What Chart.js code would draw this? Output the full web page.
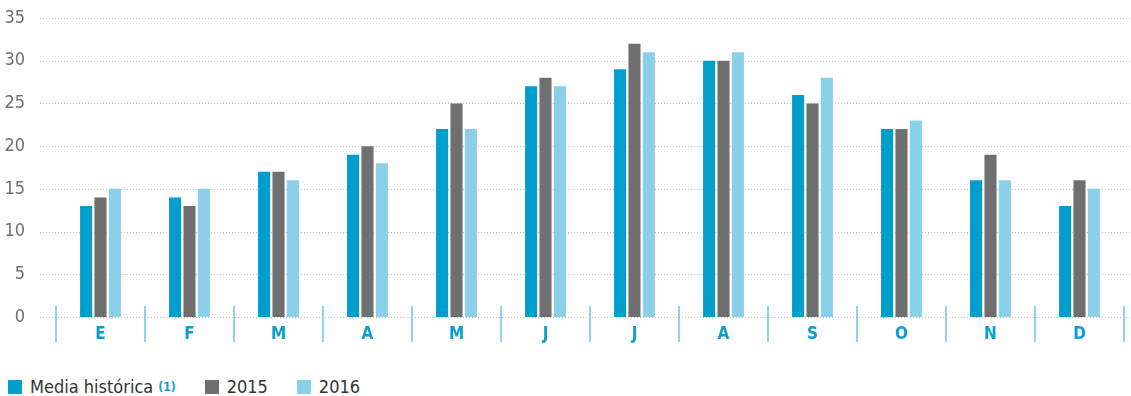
<!DOCTYPE html>
<html>
<head>
<meta charset="utf-8">
<script src="https://cdn.jsdelivr.net/npm/chart.js@4"></script>
<style>
  html, body { margin: 0; padding: 0; background: #fff; }
  #wrap { position: relative; width: 1131px; height: 396px; overflow: hidden; }
  #rain { position: absolute; left: 0; top: 0; }
  #legend {
    position: absolute; left: 8px; top: 377px; display: flex; align-items: center;
    font-family: "DejaVu Sans Condensed", "Liberation Sans Narrow", Roboto, sans-serif;
    font-size: 18px; color: #333; line-height: 20px;
  }
  .item { display: flex; align-items: center; margin-right: 29px; }
  .sw { width: 14px; height: 14px; margin-right: 8px; }
  sup.note { font-size: 12px; font-weight: bold; color: #0a9fd0; margin-left: 5px; vertical-align: 6px; }
</style>
</head>
<body>
<div id="wrap">
  <canvas id="rain" width="1131" height="350"></canvas>
  <div id="legend"></div>
</div>
<script>
// Monthly values
const months = ['E', 'F', 'M', 'A', 'M', 'J', 'J', 'A', 'S', 'O', 'N', 'D'];
const mediaHistorica = [13, 14, 17, 19, 22, 27, 29, 30, 26, 22, 16, 13];
const serie2015 = [14, 13, 17, 20, 25, 28, 32, 30, 25, 22, 19, 16];
const serie2016 = [15, 15, 16, 18, 22, 27, 31, 31, 28, 23, 16, 15];
const yTicks = [0, 5, 10, 15, 20, 25, 30, 35];

const colors = { media: '#009ecd', y2015: '#6f6f6f', y2016: '#8bd0e9' };
const fontFamily = '"DejaVu Sans Condensed", "Liberation Sans Narrow", Roboto, sans-serif';

// dotted horizontal guides that run past the plot on both sides
const dottedGrid = {
    id: 'dottedGrid',
    beforeDatasetsDraw(chart) {
        const { ctx, scales: { y } } = chart;
        ctx.save();
        ctx.strokeStyle = '#bdbdbd';
        ctx.lineWidth = 1;
        ctx.setLineDash([1, 2]);
        yTicks.forEach(v => {
            const py = Math.round(y.getPixelForValue(v)) + 0.5;
            ctx.beginPath();
            ctx.moveTo(40, py);
            ctx.lineTo(chart.width, py);
            ctx.stroke();
        });
        ctx.restore();
    }
};

// month separators below the baseline
const monthDividers = {
    id: 'monthDividers',
    afterDatasetsDraw(chart) {
        const { ctx, scales: { x, y } } = chart;
        const step = x.getPixelForValue(1) - x.getPixelForValue(0);
        const base = y.getPixelForValue(0);
        ctx.save();
        ctx.strokeStyle = '#66c6e8';
        ctx.lineWidth = 1.5;
        for (let i = 0; i <= months.length; i++) {
            const px = x.getPixelForValue(0) - step / 2 + i * step;
            ctx.beginPath();
            ctx.moveTo(px, base - 11);
            ctx.lineTo(px, base + 25);
            ctx.stroke();
        }
        ctx.restore();
    }
};

const ds = (label, data, color) => ({
    label, data, backgroundColor: color, borderWidth: 0,
    categoryPercentage: 0.485, barPercentage: 0.84
});

new Chart(document.getElementById('rain'), {
    type: 'bar',
    data: {
        labels: months,
        datasets: [
            ds('Media histórica', mediaHistorica, colors.media),
            ds('2015', serie2015, colors.y2015),
            ds('2016', serie2016, colors.y2016)
        ]
    },
    options: {
        responsive: false,
        animation: false,
        layout: { padding: { top: 18, right: 7, bottom: 0, left: 0 } },
        plugins: { legend: { display: false }, tooltip: { enabled: false } },
        scales: {
            x: {
                afterFit: s => { s.height = 33; s.paddingLeft = 0; s.paddingRight = 0; },
                grid: { display: false, drawTicks: false },
                border: { display: false },
                ticks: {
                    color: '#0a9fd0', padding: 7,
                    font: { family: fontFamily, size: 17, weight: 'bold' }
                }
            },
            y: {
                min: 0, max: 35,
                afterBuildTicks: s => { s.ticks = yTicks.map(v => ({ value: v })); },
                afterFit: s => { s.width = 56; s.paddingTop = 0; s.paddingBottom = 0; },
                grid: { display: false, drawTicks: false },
                border: { display: false },
                ticks: {
                    color: '#6f6f6f', padding: 31,
                    font: { family: fontFamily, size: 18 }
                }
            }
        }
    },
    plugins: [dottedGrid, monthDividers]
});

// html legend
const legendItems = [
    { text: 'Media histórica', color: colors.media, note: '(1)' },
    { text: '2015', color: colors.y2015 },
    { text: '2016', color: colors.y2016 }
];
const legend = document.getElementById('legend');
legendItems.forEach(it => {
    const el = document.createElement('div');
    el.className = 'item';
    el.innerHTML = `<span class="sw" style="background:${it.color}"></span><span>${it.text}</span>` +
        (it.note ? `<sup class="note">${it.note}</sup>` : '');
    legend.appendChild(el);
});
</script>
</body>
</html>
